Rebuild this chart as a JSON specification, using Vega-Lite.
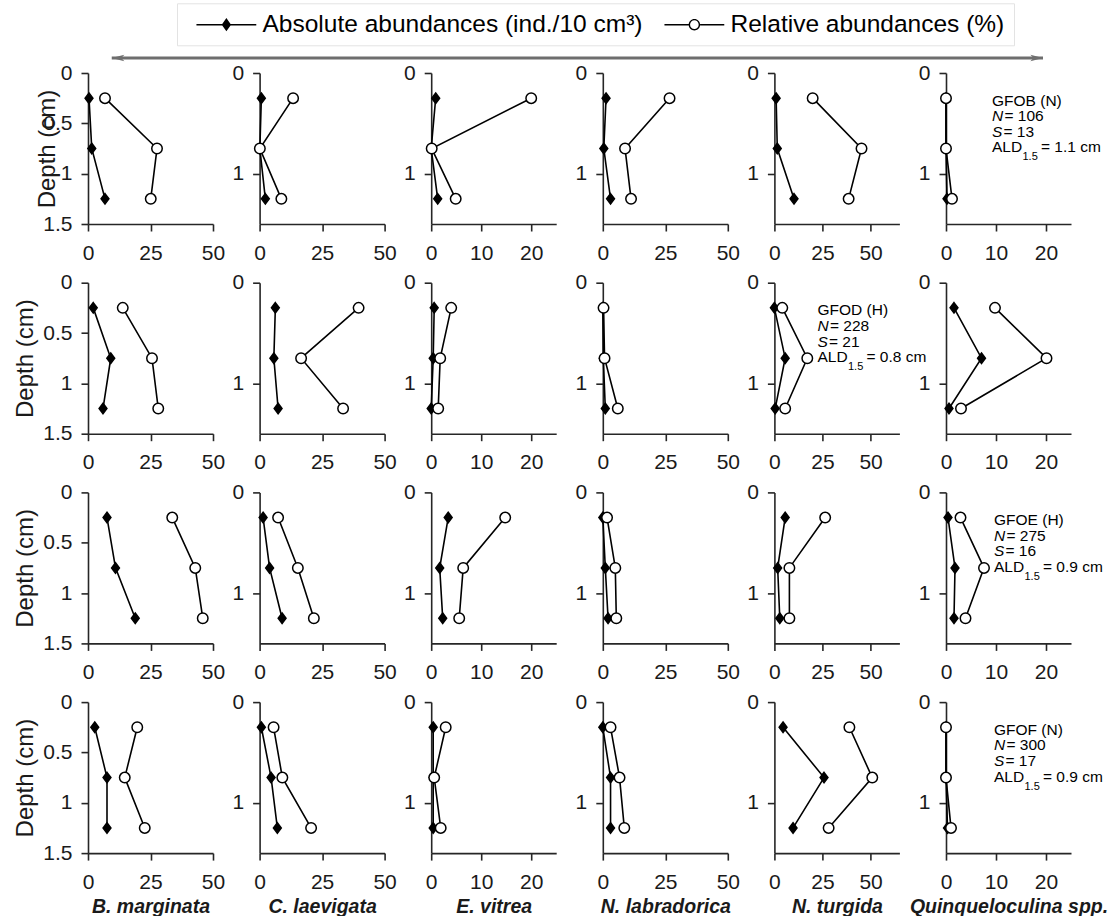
{
"$schema":"https://vega.github.io/schema/vega-lite/v6.json",
"padding":{"left":13,"top":2,"right":0,"bottom":0},
"data":{"values":[
{"site":"GFOB","species":"B. marginata","depth":0.25,"type":"abs","value":0.4},{"site":"GFOB","species":"B. marginata","depth":0.75,"type":"abs","value":1.5},{"site":"GFOB","species":"B. marginata","depth":1.25,"type":"abs","value":6.8},
{"site":"GFOB","species":"B. marginata","depth":0.25,"type":"rel","value":6.8},{"site":"GFOB","species":"B. marginata","depth":0.75,"type":"rel","value":27.6},{"site":"GFOB","species":"B. marginata","depth":1.25,"type":"rel","value":25.1},
{"site":"GFOB","species":"C. laevigata","depth":0.25,"type":"abs","value":0.7},{"site":"GFOB","species":"C. laevigata","depth":0.75,"type":"abs","value":0.1},{"site":"GFOB","species":"C. laevigata","depth":1.25,"type":"abs","value":2.3},
{"site":"GFOB","species":"C. laevigata","depth":0.25,"type":"rel","value":13.4},{"site":"GFOB","species":"C. laevigata","depth":0.75,"type":"rel","value":0.1},{"site":"GFOB","species":"C. laevigata","depth":1.25,"type":"rel","value":8.7},
{"site":"GFOB","species":"E. vitrea","depth":0.25,"type":"abs","value":0.9},{"site":"GFOB","species":"E. vitrea","depth":0.75,"type":"abs","value":0},{"site":"GFOB","species":"E. vitrea","depth":1.25,"type":"abs","value":1.3},
{"site":"GFOB","species":"E. vitrea","depth":0.25,"type":"rel","value":20},{"site":"GFOB","species":"E. vitrea","depth":0.75,"type":"rel","value":0.1},{"site":"GFOB","species":"E. vitrea","depth":1.25,"type":"rel","value":4.9},
{"site":"GFOB","species":"N. labradorica","depth":0.25,"type":"abs","value":1.3},{"site":"GFOB","species":"N. labradorica","depth":0.75,"type":"abs","value":0.4},{"site":"GFOB","species":"N. labradorica","depth":1.25,"type":"abs","value":3.1},
{"site":"GFOB","species":"N. labradorica","depth":0.25,"type":"rel","value":26.7},{"site":"GFOB","species":"N. labradorica","depth":0.75,"type":"rel","value":8.9},{"site":"GFOB","species":"N. labradorica","depth":1.25,"type":"rel","value":11.3},
{"site":"GFOB","species":"N. turgida","depth":0.25,"type":"abs","value":0.9},{"site":"GFOB","species":"N. turgida","depth":0.75,"type":"abs","value":1.5},{"site":"GFOB","species":"N. turgida","depth":1.25,"type":"abs","value":10.2},
{"site":"GFOB","species":"N. turgida","depth":0.25,"type":"rel","value":19.9},{"site":"GFOB","species":"N. turgida","depth":0.75,"type":"rel","value":45.3},{"site":"GFOB","species":"N. turgida","depth":1.25,"type":"rel","value":38.6},
{"site":"GFOB","species":"Quinqueloculina spp.","depth":0.25,"type":"abs","value":0},{"site":"GFOB","species":"Quinqueloculina spp.","depth":0.75,"type":"abs","value":0},{"site":"GFOB","species":"Quinqueloculina spp.","depth":1.25,"type":"abs","value":0.2},
{"site":"GFOB","species":"Quinqueloculina spp.","depth":0.25,"type":"rel","value":0},{"site":"GFOB","species":"Quinqueloculina spp.","depth":0.75,"type":"rel","value":0},{"site":"GFOB","species":"Quinqueloculina spp.","depth":1.25,"type":"rel","value":1.2},
{"site":"GFOD","species":"B. marginata","depth":0.25,"type":"abs","value":2.1},{"site":"GFOD","species":"B. marginata","depth":0.75,"type":"abs","value":9.1},{"site":"GFOD","species":"B. marginata","depth":1.25,"type":"abs","value":6},
{"site":"GFOD","species":"B. marginata","depth":0.25,"type":"rel","value":13.9},{"site":"GFOD","species":"B. marginata","depth":0.75,"type":"rel","value":25.6},{"site":"GFOD","species":"B. marginata","depth":1.25,"type":"rel","value":28.1},
{"site":"GFOD","species":"C. laevigata","depth":0.25,"type":"abs","value":6.3},{"site":"GFOD","species":"C. laevigata","depth":0.75,"type":"abs","value":5.7},{"site":"GFOD","species":"C. laevigata","depth":1.25,"type":"abs","value":7.4},
{"site":"GFOD","species":"C. laevigata","depth":0.25,"type":"rel","value":39.6},{"site":"GFOD","species":"C. laevigata","depth":0.75,"type":"rel","value":16.6},{"site":"GFOD","species":"C. laevigata","depth":1.25,"type":"rel","value":33.4},
{"site":"GFOD","species":"E. vitrea","depth":0.25,"type":"abs","value":0.6},{"site":"GFOD","species":"E. vitrea","depth":0.75,"type":"abs","value":0.4},{"site":"GFOD","species":"E. vitrea","depth":1.25,"type":"abs","value":0},
{"site":"GFOD","species":"E. vitrea","depth":0.25,"type":"rel","value":4},{"site":"GFOD","species":"E. vitrea","depth":0.75,"type":"rel","value":1.8},{"site":"GFOD","species":"E. vitrea","depth":1.25,"type":"rel","value":1.4},
{"site":"GFOD","species":"N. labradorica","depth":0.25,"type":"abs","value":0},{"site":"GFOD","species":"N. labradorica","depth":0.75,"type":"abs","value":0.2},{"site":"GFOD","species":"N. labradorica","depth":1.25,"type":"abs","value":1},
{"site":"GFOD","species":"N. labradorica","depth":0.25,"type":"rel","value":0.3},{"site":"GFOD","species":"N. labradorica","depth":0.75,"type":"rel","value":0.7},{"site":"GFOD","species":"N. labradorica","depth":1.25,"type":"rel","value":6},
{"site":"GFOD","species":"N. turgida","depth":0.25,"type":"abs","value":0},{"site":"GFOD","species":"N. turgida","depth":0.75,"type":"abs","value":5.6},{"site":"GFOD","species":"N. turgida","depth":1.25,"type":"abs","value":0.4},
{"site":"GFOD","species":"N. turgida","depth":0.25,"type":"rel","value":4.1},{"site":"GFOD","species":"N. turgida","depth":0.75,"type":"rel","value":17.1},{"site":"GFOD","species":"N. turgida","depth":1.25,"type":"rel","value":5.6},
{"site":"GFOD","species":"Quinqueloculina spp.","depth":0.25,"type":"abs","value":1.6},{"site":"GFOD","species":"Quinqueloculina spp.","depth":0.75,"type":"abs","value":7.1},{"site":"GFOD","species":"Quinqueloculina spp.","depth":1.25,"type":"abs","value":0.6},
{"site":"GFOD","species":"Quinqueloculina spp.","depth":0.25,"type":"rel","value":9.8},{"site":"GFOD","species":"Quinqueloculina spp.","depth":0.75,"type":"rel","value":20.1},{"site":"GFOD","species":"Quinqueloculina spp.","depth":1.25,"type":"rel","value":3},
{"site":"GFOE","species":"B. marginata","depth":0.25,"type":"abs","value":7.6},{"site":"GFOE","species":"B. marginata","depth":0.75,"type":"abs","value":11},{"site":"GFOE","species":"B. marginata","depth":1.25,"type":"abs","value":18.9},
{"site":"GFOE","species":"B. marginata","depth":0.25,"type":"rel","value":33.7},{"site":"GFOE","species":"B. marginata","depth":0.75,"type":"rel","value":42.9},{"site":"GFOE","species":"B. marginata","depth":1.25,"type":"rel","value":45.9},
{"site":"GFOE","species":"C. laevigata","depth":0.25,"type":"abs","value":1.4},{"site":"GFOE","species":"C. laevigata","depth":0.75,"type":"abs","value":4},{"site":"GFOE","species":"C. laevigata","depth":1.25,"type":"abs","value":9},
{"site":"GFOE","species":"C. laevigata","depth":0.25,"type":"rel","value":7.4},{"site":"GFOE","species":"C. laevigata","depth":0.75,"type":"rel","value":15.3},{"site":"GFOE","species":"C. laevigata","depth":1.25,"type":"rel","value":21.7},
{"site":"GFOE","species":"E. vitrea","depth":0.25,"type":"abs","value":3.4},{"site":"GFOE","species":"E. vitrea","depth":0.75,"type":"abs","value":1.7},{"site":"GFOE","species":"E. vitrea","depth":1.25,"type":"abs","value":2.3},
{"site":"GFOE","species":"E. vitrea","depth":0.25,"type":"rel","value":14.8},{"site":"GFOE","species":"E. vitrea","depth":0.75,"type":"rel","value":6.4},{"site":"GFOE","species":"E. vitrea","depth":1.25,"type":"rel","value":5.6},
{"site":"GFOE","species":"N. labradorica","depth":0.25,"type":"abs","value":0},{"site":"GFOE","species":"N. labradorica","depth":0.75,"type":"abs","value":1},{"site":"GFOE","species":"N. labradorica","depth":1.25,"type":"abs","value":2.1},
{"site":"GFOE","species":"N. labradorica","depth":0.25,"type":"rel","value":1.7},{"site":"GFOE","species":"N. labradorica","depth":0.75,"type":"rel","value":5},{"site":"GFOE","species":"N. labradorica","depth":1.25,"type":"rel","value":5.4},
{"site":"GFOE","species":"N. turgida","depth":0.25,"type":"abs","value":5.6},{"site":"GFOE","species":"N. turgida","depth":0.75,"type":"abs","value":1.7},{"site":"GFOE","species":"N. turgida","depth":1.25,"type":"abs","value":2.8},
{"site":"GFOE","species":"N. turgida","depth":0.25,"type":"rel","value":26.4},{"site":"GFOE","species":"N. turgida","depth":0.75,"type":"rel","value":7.8},{"site":"GFOE","species":"N. turgida","depth":1.25,"type":"rel","value":7.8},
{"site":"GFOE","species":"Quinqueloculina spp.","depth":0.25,"type":"abs","value":0.4},{"site":"GFOE","species":"Quinqueloculina spp.","depth":0.75,"type":"abs","value":1.8},{"site":"GFOE","species":"Quinqueloculina spp.","depth":1.25,"type":"abs","value":1.6},
{"site":"GFOE","species":"Quinqueloculina spp.","depth":0.25,"type":"rel","value":2.9},{"site":"GFOE","species":"Quinqueloculina spp.","depth":0.75,"type":"rel","value":7.6},{"site":"GFOE","species":"Quinqueloculina spp.","depth":1.25,"type":"rel","value":3.9},
{"site":"GFOF","species":"B. marginata","depth":0.25,"type":"abs","value":2.7},{"site":"GFOF","species":"B. marginata","depth":0.75,"type":"abs","value":7.6},{"site":"GFOF","species":"B. marginata","depth":1.25,"type":"abs","value":7.6},
{"site":"GFOF","species":"B. marginata","depth":0.25,"type":"rel","value":19.7},{"site":"GFOF","species":"B. marginata","depth":0.75,"type":"rel","value":14.7},{"site":"GFOF","species":"B. marginata","depth":1.25,"type":"rel","value":22.7},
{"site":"GFOF","species":"C. laevigata","depth":0.25,"type":"abs","value":0.7},{"site":"GFOF","species":"C. laevigata","depth":0.75,"type":"abs","value":4.6},{"site":"GFOF","species":"C. laevigata","depth":1.25,"type":"abs","value":7.1},
{"site":"GFOF","species":"C. laevigata","depth":0.25,"type":"rel","value":5.6},{"site":"GFOF","species":"C. laevigata","depth":0.75,"type":"rel","value":9.1},{"site":"GFOF","species":"C. laevigata","depth":1.25,"type":"rel","value":20.6},
{"site":"GFOF","species":"E. vitrea","depth":0.25,"type":"abs","value":0.4},{"site":"GFOF","species":"E. vitrea","depth":0.75,"type":"abs","value":0.4},{"site":"GFOF","species":"E. vitrea","depth":1.25,"type":"abs","value":0.4},
{"site":"GFOF","species":"E. vitrea","depth":0.25,"type":"rel","value":2.9},{"site":"GFOF","species":"E. vitrea","depth":0.75,"type":"rel","value":0.6},{"site":"GFOF","species":"E. vitrea","depth":1.25,"type":"rel","value":1.9},
{"site":"GFOF","species":"N. labradorica","depth":0.25,"type":"abs","value":0},{"site":"GFOF","species":"N. labradorica","depth":0.75,"type":"abs","value":3.1},{"site":"GFOF","species":"N. labradorica","depth":1.25,"type":"abs","value":3.1},
{"site":"GFOF","species":"N. labradorica","depth":0.25,"type":"rel","value":3.1},{"site":"GFOF","species":"N. labradorica","depth":0.75,"type":"rel","value":6.7},{"site":"GFOF","species":"N. labradorica","depth":1.25,"type":"rel","value":8.6},
{"site":"GFOF","species":"N. turgida","depth":0.25,"type":"abs","value":4.5},{"site":"GFOF","species":"N. turgida","depth":0.75,"type":"abs","value":25.8},{"site":"GFOF","species":"N. turgida","depth":1.25,"type":"abs","value":9.7},
{"site":"GFOF","species":"N. turgida","depth":0.25,"type":"rel","value":39},{"site":"GFOF","species":"N. turgida","depth":0.75,"type":"rel","value":50.9},{"site":"GFOF","species":"N. turgida","depth":1.25,"type":"rel","value":28.2},
{"site":"GFOF","species":"Quinqueloculina spp.","depth":0.25,"type":"abs","value":0},{"site":"GFOF","species":"Quinqueloculina spp.","depth":0.75,"type":"abs","value":0},{"site":"GFOF","species":"Quinqueloculina spp.","depth":1.25,"type":"abs","value":0.3},
{"site":"GFOF","species":"Quinqueloculina spp.","depth":0.25,"type":"rel","value":0},{"site":"GFOF","species":"Quinqueloculina spp.","depth":0.75,"type":"rel","value":0},{"site":"GFOF","species":"Quinqueloculina spp.","depth":1.25,"type":"rel","value":1}
]},
"spacing":0,
"resolve":{"scale":{"shape":"independent","fill":"independent"}},
"vconcat":[
{"width":955,"height":6,
 "layer":[
  {"data":{"values":[{}]},"mark":{"type":"rule","color":"#6e6e6e","strokeWidth":3},"encoding":{"x":{"datum":0,"type":"quantitative","scale":{"domain":[-0.0255,1],"nice":false,"zero":false},"axis":null},"x2":{"datum":1}}},
  {"data":{"values":[{}]},"mark":{"type":"point","shape":"M0,0L2,-0.5L1.5,0L2,0.5Z","filled":true,"color":"#6e6e6e","size":160,"opacity":1},"encoding":{"x":{"datum":0,"type":"quantitative"}}},
  {"data":{"values":[{}]},"mark":{"type":"point","shape":"M0,0L-2,-0.5L-1.5,0L-2,0.5Z","filled":true,"color":"#6e6e6e","size":160,"opacity":1},"encoding":{"x":{"datum":1,"type":"quantitative"}}},
  {"data":{"values":[{"type":"abs"},{"type":"rel"}]},"mark":{"type":"point","filled":true,"opacity":0},
   "encoding":{
    "shape":{"field":"type","type":"nominal","scale":{"domain":["abs","rel"],"range":["M-0.3,-0.13L9.67,-0.13L9.67,0.13L-0.3,0.13ZM4.69,-1.1L5.47,0L4.69,1.1L3.91,0Z","M-0.3,-0.13L3.74,-0.13L3.74,0.13L-0.3,0.13ZM5.64,-0.13L9.67,-0.13L9.67,0.13L5.64,0.13ZM5.64,0A0.95,0.95,0,1,0,3.74,0A0.95,0.95,0,1,0,5.64,0ZM5.41,0A0.72,0.72,0,1,1,3.97,0A0.72,0.72,0,1,1,5.41,0Z"]},
     "legend":{"orient":"none","legendX":89,"legendY":-51.7,"direction":"horizontal","columns":2,"title":null,"labelExpr":"datum.value=='abs' ? 'Absolute abundances (ind./10 cm³)' : 'Relative abundances (%)'","labelFontSize":24.5,"labelFont":"Liberation Sans","labelColor":"black","labelLimit":800,"symbolSize":144,"symbolOpacity":1,"labelOffset":52,"columnPadding":11,"padding":9,"strokeColor":"#e3e3e3","fillColor":"white"}},
    "fill":{"field":"type","type":"nominal","scale":{"domain":["abs","rel"],"range":["black","black"]}}
   }}
 ]},
{"columns":6,"spacing":{"row":58.7,"column":46.6},"bounds":"flush",
 "concat":[
{"width":125,"height":151,"transform":[{"filter":"datum.site=='GFOB'&&datum.species=='B. marginata'"}],"encoding":{"x":{"field":"value","type":"quantitative","scale":{"domain":[0,50],"nice":false},"axis":{"values":[0,25,50],"title":null}},"y":{"field":"depth","type":"quantitative","scale":{"domain":[0,1.5],"reverse":true,"nice":false},"axis":{"values":[0,0.5,1,1.5],"format":"~g","title":"Depth (cm)","titlePadding":-16.7}}},"layer":[{"mark":{"type":"line","color":"black","strokeWidth":1.6},"encoding":{"detail":{"field":"type"},"order":{"field":"depth","type":"quantitative"}}},{"mark":{"type":"point","filled":true,"stroke":"black","strokeWidth":1.5,"size":110,"opacity":1},"encoding":{"shape":{"field":"type","type":"nominal","scale":{"domain":["abs","rel"],"range":["M0,-1L0.75,0L0,1L-0.75,0Z","circle"]},"legend":null},"fill":{"field":"type","type":"nominal","scale":{"domain":["abs","rel"],"range":["black","white"]},"legend":null}}}]},
{"width":125,"height":151,"transform":[{"filter":"datum.site=='GFOB'&&datum.species=='C. laevigata'"}],"encoding":{"x":{"field":"value","type":"quantitative","scale":{"domain":[0,50],"nice":false},"axis":{"values":[0,25,50],"title":null}},"y":{"field":"depth","type":"quantitative","scale":{"domain":[0,1.5],"reverse":true,"nice":false},"axis":{"values":[0,1],"format":"~g","title":null}}},"layer":[{"mark":{"type":"line","color":"black","strokeWidth":1.6},"encoding":{"detail":{"field":"type"},"order":{"field":"depth","type":"quantitative"}}},{"mark":{"type":"point","filled":true,"stroke":"black","strokeWidth":1.5,"size":110,"opacity":1},"encoding":{"shape":{"field":"type","type":"nominal","scale":{"domain":["abs","rel"],"range":["M0,-1L0.75,0L0,1L-0.75,0Z","circle"]},"legend":null},"fill":{"field":"type","type":"nominal","scale":{"domain":["abs","rel"],"range":["black","white"]},"legend":null}}}]},
{"width":125,"height":151,"transform":[{"filter":"datum.site=='GFOB'&&datum.species=='E. vitrea'"}],"encoding":{"x":{"field":"value","type":"quantitative","scale":{"domain":[0,25],"nice":false},"axis":{"values":[0,10,20],"title":null}},"y":{"field":"depth","type":"quantitative","scale":{"domain":[0,1.5],"reverse":true,"nice":false},"axis":{"values":[0,1],"format":"~g","title":null}}},"layer":[{"mark":{"type":"line","color":"black","strokeWidth":1.6},"encoding":{"detail":{"field":"type"},"order":{"field":"depth","type":"quantitative"}}},{"mark":{"type":"point","filled":true,"stroke":"black","strokeWidth":1.5,"size":110,"opacity":1},"encoding":{"shape":{"field":"type","type":"nominal","scale":{"domain":["abs","rel"],"range":["M0,-1L0.75,0L0,1L-0.75,0Z","circle"]},"legend":null},"fill":{"field":"type","type":"nominal","scale":{"domain":["abs","rel"],"range":["black","white"]},"legend":null}}}]},
{"width":125,"height":151,"transform":[{"filter":"datum.site=='GFOB'&&datum.species=='N. labradorica'"}],"encoding":{"x":{"field":"value","type":"quantitative","scale":{"domain":[0,50],"nice":false},"axis":{"values":[0,25,50],"title":null}},"y":{"field":"depth","type":"quantitative","scale":{"domain":[0,1.5],"reverse":true,"nice":false},"axis":{"values":[0,1],"format":"~g","title":null}}},"layer":[{"mark":{"type":"line","color":"black","strokeWidth":1.6},"encoding":{"detail":{"field":"type"},"order":{"field":"depth","type":"quantitative"}}},{"mark":{"type":"point","filled":true,"stroke":"black","strokeWidth":1.5,"size":110,"opacity":1},"encoding":{"shape":{"field":"type","type":"nominal","scale":{"domain":["abs","rel"],"range":["M0,-1L0.75,0L0,1L-0.75,0Z","circle"]},"legend":null},"fill":{"field":"type","type":"nominal","scale":{"domain":["abs","rel"],"range":["black","white"]},"legend":null}}}]},
{"width":125,"height":151,"transform":[{"filter":"datum.site=='GFOB'&&datum.species=='N. turgida'"}],"encoding":{"x":{"field":"value","type":"quantitative","scale":{"domain":[0,65],"nice":false},"axis":{"values":[0,25,50],"title":null}},"y":{"field":"depth","type":"quantitative","scale":{"domain":[0,1.5],"reverse":true,"nice":false},"axis":{"values":[0,1],"format":"~g","title":null}}},"layer":[{"mark":{"type":"line","color":"black","strokeWidth":1.6},"encoding":{"detail":{"field":"type"},"order":{"field":"depth","type":"quantitative"}}},{"mark":{"type":"point","filled":true,"stroke":"black","strokeWidth":1.5,"size":110,"opacity":1},"encoding":{"shape":{"field":"type","type":"nominal","scale":{"domain":["abs","rel"],"range":["M0,-1L0.75,0L0,1L-0.75,0Z","circle"]},"legend":null},"fill":{"field":"type","type":"nominal","scale":{"domain":["abs","rel"],"range":["black","white"]},"legend":null}}}]},
{"width":125,"height":151,
 "layer":[
  {"transform":[{"filter":"datum.site=='GFOB'&&datum.species=='Quinqueloculina spp.'"}],"mark":{"type":"line","color":"black","strokeWidth":1.6},"encoding":{"x":{"field":"value","type":"quantitative","scale":{"domain":[0,25],"nice":false},"axis":{"values":[0,10,20],"title":null}},"y":{"field":"depth","type":"quantitative","scale":{"domain":[0,1.5],"reverse":true,"nice":false},"axis":{"values":[0,1],"format":"~g","title":null}},"detail":{"field":"type"},"order":{"field":"depth","type":"quantitative"}}},
  {"transform":[{"filter":"datum.site=='GFOB'&&datum.species=='Quinqueloculina spp.'"}],"mark":{"type":"point","filled":true,"stroke":"black","strokeWidth":1.5,"size":110,"opacity":1},"encoding":{"x":{"field":"value","type":"quantitative"},"y":{"field":"depth","type":"quantitative"},"shape":{"field":"type","type":"nominal","scale":{"domain":["abs","rel"],"range":["M0,-1L0.75,0L0,1L-0.75,0Z","circle"]},"legend":null},"fill":{"field":"type","type":"nominal","scale":{"domain":["abs","rel"],"range":["black","white"]},"legend":null}}},
  {"data":{"values":[{"label":"GFOB (N)","n":"= 106","s":"= 13","ald":"= 1.1 cm"}]},"mark":{"type":"text"},"encoding":{"text":{"field":"label"},"x":{"datum":9.2,"type":"quantitative"},"y":{"datum":0.275,"type":"quantitative"}}},
  {"data":{"values":[{}]},"mark":{"type":"text","text":"N","fontStyle":"italic"},"encoding":{"x":{"datum":9.2,"type":"quantitative"},"y":{"datum":0.43,"type":"quantitative"}}},
  {"data":{"values":[{"label":"GFOB (N)","n":"= 106","s":"= 13","ald":"= 1.1 cm"}]},"mark":{"type":"text","dx":12.5},"encoding":{"text":{"field":"n"},"x":{"datum":9.2,"type":"quantitative"},"y":{"datum":0.43,"type":"quantitative"}}},
  {"data":{"values":[{}]},"mark":{"type":"text","text":"S","fontStyle":"italic"},"encoding":{"x":{"datum":9.2,"type":"quantitative"},"y":{"datum":0.585,"type":"quantitative"}}},
  {"data":{"values":[{"label":"GFOB (N)","n":"= 106","s":"= 13","ald":"= 1.1 cm"}]},"mark":{"type":"text","dx":11.5},"encoding":{"text":{"field":"s"},"x":{"datum":9.2,"type":"quantitative"},"y":{"datum":0.585,"type":"quantitative"}}},
  {"data":{"values":[{}]},"mark":{"type":"text","text":"ALD"},"encoding":{"x":{"datum":9.2,"type":"quantitative"},"y":{"datum":0.74,"type":"quantitative"}}},
  {"data":{"values":[{}]},"mark":{"type":"text","text":"1.5","fontSize":11,"dx":30.5,"dy":10},"encoding":{"x":{"datum":9.2,"type":"quantitative"},"y":{"datum":0.74,"type":"quantitative"}}},
  {"data":{"values":[{"label":"GFOB (N)","n":"= 106","s":"= 13","ald":"= 1.1 cm"}]},"mark":{"type":"text","dx":49},"encoding":{"text":{"field":"ald"},"x":{"datum":9.2,"type":"quantitative"},"y":{"datum":0.74,"type":"quantitative"}}}
 ]},
{"width":125,"height":151,"transform":[{"filter":"datum.site=='GFOD'&&datum.species=='B. marginata'"}],"encoding":{"x":{"field":"value","type":"quantitative","scale":{"domain":[0,50],"nice":false},"axis":{"values":[0,25,50],"title":null}},"y":{"field":"depth","type":"quantitative","scale":{"domain":[0,1.5],"reverse":true,"nice":false},"axis":{"values":[0,0.5,1,1.5],"format":"~g","title":"Depth (cm)"}}},"layer":[{"mark":{"type":"line","color":"black","strokeWidth":1.6},"encoding":{"detail":{"field":"type"},"order":{"field":"depth","type":"quantitative"}}},{"mark":{"type":"point","filled":true,"stroke":"black","strokeWidth":1.5,"size":110,"opacity":1},"encoding":{"shape":{"field":"type","type":"nominal","scale":{"domain":["abs","rel"],"range":["M0,-1L0.75,0L0,1L-0.75,0Z","circle"]},"legend":null},"fill":{"field":"type","type":"nominal","scale":{"domain":["abs","rel"],"range":["black","white"]},"legend":null}}}]},
{"width":125,"height":151,"transform":[{"filter":"datum.site=='GFOD'&&datum.species=='C. laevigata'"}],"encoding":{"x":{"field":"value","type":"quantitative","scale":{"domain":[0,50],"nice":false},"axis":{"values":[0,25,50],"title":null}},"y":{"field":"depth","type":"quantitative","scale":{"domain":[0,1.5],"reverse":true,"nice":false},"axis":{"values":[0,1],"format":"~g","title":null}}},"layer":[{"mark":{"type":"line","color":"black","strokeWidth":1.6},"encoding":{"detail":{"field":"type"},"order":{"field":"depth","type":"quantitative"}}},{"mark":{"type":"point","filled":true,"stroke":"black","strokeWidth":1.5,"size":110,"opacity":1},"encoding":{"shape":{"field":"type","type":"nominal","scale":{"domain":["abs","rel"],"range":["M0,-1L0.75,0L0,1L-0.75,0Z","circle"]},"legend":null},"fill":{"field":"type","type":"nominal","scale":{"domain":["abs","rel"],"range":["black","white"]},"legend":null}}}]},
{"width":125,"height":151,"transform":[{"filter":"datum.site=='GFOD'&&datum.species=='E. vitrea'"}],"encoding":{"x":{"field":"value","type":"quantitative","scale":{"domain":[0,25],"nice":false},"axis":{"values":[0,10,20],"title":null}},"y":{"field":"depth","type":"quantitative","scale":{"domain":[0,1.5],"reverse":true,"nice":false},"axis":{"values":[0,1],"format":"~g","title":null}}},"layer":[{"mark":{"type":"line","color":"black","strokeWidth":1.6},"encoding":{"detail":{"field":"type"},"order":{"field":"depth","type":"quantitative"}}},{"mark":{"type":"point","filled":true,"stroke":"black","strokeWidth":1.5,"size":110,"opacity":1},"encoding":{"shape":{"field":"type","type":"nominal","scale":{"domain":["abs","rel"],"range":["M0,-1L0.75,0L0,1L-0.75,0Z","circle"]},"legend":null},"fill":{"field":"type","type":"nominal","scale":{"domain":["abs","rel"],"range":["black","white"]},"legend":null}}}]},
{"width":125,"height":151,"transform":[{"filter":"datum.site=='GFOD'&&datum.species=='N. labradorica'"}],"encoding":{"x":{"field":"value","type":"quantitative","scale":{"domain":[0,50],"nice":false},"axis":{"values":[0,25,50],"title":null}},"y":{"field":"depth","type":"quantitative","scale":{"domain":[0,1.5],"reverse":true,"nice":false},"axis":{"values":[0,1],"format":"~g","title":null}}},"layer":[{"mark":{"type":"line","color":"black","strokeWidth":1.6},"encoding":{"detail":{"field":"type"},"order":{"field":"depth","type":"quantitative"}}},{"mark":{"type":"point","filled":true,"stroke":"black","strokeWidth":1.5,"size":110,"opacity":1},"encoding":{"shape":{"field":"type","type":"nominal","scale":{"domain":["abs","rel"],"range":["M0,-1L0.75,0L0,1L-0.75,0Z","circle"]},"legend":null},"fill":{"field":"type","type":"nominal","scale":{"domain":["abs","rel"],"range":["black","white"]},"legend":null}}}]},
{"width":125,"height":151,
 "layer":[
  {"transform":[{"filter":"datum.site=='GFOD'&&datum.species=='N. turgida'"}],"mark":{"type":"line","color":"black","strokeWidth":1.6},"encoding":{"x":{"field":"value","type":"quantitative","scale":{"domain":[0,65],"nice":false},"axis":{"values":[0,25,50],"title":null}},"y":{"field":"depth","type":"quantitative","scale":{"domain":[0,1.5],"reverse":true,"nice":false},"axis":{"values":[0,1],"format":"~g","title":null}},"detail":{"field":"type"},"order":{"field":"depth","type":"quantitative"}}},
  {"transform":[{"filter":"datum.site=='GFOD'&&datum.species=='N. turgida'"}],"mark":{"type":"point","filled":true,"stroke":"black","strokeWidth":1.5,"size":110,"opacity":1},"encoding":{"x":{"field":"value","type":"quantitative"},"y":{"field":"depth","type":"quantitative"},"shape":{"field":"type","type":"nominal","scale":{"domain":["abs","rel"],"range":["M0,-1L0.75,0L0,1L-0.75,0Z","circle"]},"legend":null},"fill":{"field":"type","type":"nominal","scale":{"domain":["abs","rel"],"range":["black","white"]},"legend":null}}},
  {"data":{"values":[{"label":"GFOD (H)","n":"= 228","s":"= 21","ald":"= 0.8 cm"}]},"mark":{"type":"text"},"encoding":{"text":{"field":"label"},"x":{"datum":22.4,"type":"quantitative"},"y":{"datum":0.275,"type":"quantitative"}}},
  {"data":{"values":[{}]},"mark":{"type":"text","text":"N","fontStyle":"italic"},"encoding":{"x":{"datum":22.4,"type":"quantitative"},"y":{"datum":0.43,"type":"quantitative"}}},
  {"data":{"values":[{"label":"GFOD (H)","n":"= 228","s":"= 21","ald":"= 0.8 cm"}]},"mark":{"type":"text","dx":12.5},"encoding":{"text":{"field":"n"},"x":{"datum":22.4,"type":"quantitative"},"y":{"datum":0.43,"type":"quantitative"}}},
  {"data":{"values":[{}]},"mark":{"type":"text","text":"S","fontStyle":"italic"},"encoding":{"x":{"datum":22.4,"type":"quantitative"},"y":{"datum":0.585,"type":"quantitative"}}},
  {"data":{"values":[{"label":"GFOD (H)","n":"= 228","s":"= 21","ald":"= 0.8 cm"}]},"mark":{"type":"text","dx":11.5},"encoding":{"text":{"field":"s"},"x":{"datum":22.4,"type":"quantitative"},"y":{"datum":0.585,"type":"quantitative"}}},
  {"data":{"values":[{}]},"mark":{"type":"text","text":"ALD"},"encoding":{"x":{"datum":22.4,"type":"quantitative"},"y":{"datum":0.74,"type":"quantitative"}}},
  {"data":{"values":[{}]},"mark":{"type":"text","text":"1.5","fontSize":11,"dx":30.5,"dy":10},"encoding":{"x":{"datum":22.4,"type":"quantitative"},"y":{"datum":0.74,"type":"quantitative"}}},
  {"data":{"values":[{"label":"GFOD (H)","n":"= 228","s":"= 21","ald":"= 0.8 cm"}]},"mark":{"type":"text","dx":49},"encoding":{"text":{"field":"ald"},"x":{"datum":22.4,"type":"quantitative"},"y":{"datum":0.74,"type":"quantitative"}}}
 ]},
{"width":125,"height":151,"transform":[{"filter":"datum.site=='GFOD'&&datum.species=='Quinqueloculina spp.'"}],"encoding":{"x":{"field":"value","type":"quantitative","scale":{"domain":[0,25],"nice":false},"axis":{"values":[0,10,20],"title":null}},"y":{"field":"depth","type":"quantitative","scale":{"domain":[0,1.5],"reverse":true,"nice":false},"axis":{"values":[0,1],"format":"~g","title":null}}},"layer":[{"mark":{"type":"line","color":"black","strokeWidth":1.6},"encoding":{"detail":{"field":"type"},"order":{"field":"depth","type":"quantitative"}}},{"mark":{"type":"point","filled":true,"stroke":"black","strokeWidth":1.5,"size":110,"opacity":1},"encoding":{"shape":{"field":"type","type":"nominal","scale":{"domain":["abs","rel"],"range":["M0,-1L0.75,0L0,1L-0.75,0Z","circle"]},"legend":null},"fill":{"field":"type","type":"nominal","scale":{"domain":["abs","rel"],"range":["black","white"]},"legend":null}}}]},
{"width":125,"height":151,"transform":[{"filter":"datum.site=='GFOE'&&datum.species=='B. marginata'"}],"encoding":{"x":{"field":"value","type":"quantitative","scale":{"domain":[0,50],"nice":false},"axis":{"values":[0,25,50],"title":null}},"y":{"field":"depth","type":"quantitative","scale":{"domain":[0,1.5],"reverse":true,"nice":false},"axis":{"values":[0,0.5,1,1.5],"format":"~g","title":"Depth (cm)"}}},"layer":[{"mark":{"type":"line","color":"black","strokeWidth":1.6},"encoding":{"detail":{"field":"type"},"order":{"field":"depth","type":"quantitative"}}},{"mark":{"type":"point","filled":true,"stroke":"black","strokeWidth":1.5,"size":110,"opacity":1},"encoding":{"shape":{"field":"type","type":"nominal","scale":{"domain":["abs","rel"],"range":["M0,-1L0.75,0L0,1L-0.75,0Z","circle"]},"legend":null},"fill":{"field":"type","type":"nominal","scale":{"domain":["abs","rel"],"range":["black","white"]},"legend":null}}}]},
{"width":125,"height":151,"transform":[{"filter":"datum.site=='GFOE'&&datum.species=='C. laevigata'"}],"encoding":{"x":{"field":"value","type":"quantitative","scale":{"domain":[0,50],"nice":false},"axis":{"values":[0,25,50],"title":null}},"y":{"field":"depth","type":"quantitative","scale":{"domain":[0,1.5],"reverse":true,"nice":false},"axis":{"values":[0,1],"format":"~g","title":null}}},"layer":[{"mark":{"type":"line","color":"black","strokeWidth":1.6},"encoding":{"detail":{"field":"type"},"order":{"field":"depth","type":"quantitative"}}},{"mark":{"type":"point","filled":true,"stroke":"black","strokeWidth":1.5,"size":110,"opacity":1},"encoding":{"shape":{"field":"type","type":"nominal","scale":{"domain":["abs","rel"],"range":["M0,-1L0.75,0L0,1L-0.75,0Z","circle"]},"legend":null},"fill":{"field":"type","type":"nominal","scale":{"domain":["abs","rel"],"range":["black","white"]},"legend":null}}}]},
{"width":125,"height":151,"transform":[{"filter":"datum.site=='GFOE'&&datum.species=='E. vitrea'"}],"encoding":{"x":{"field":"value","type":"quantitative","scale":{"domain":[0,25],"nice":false},"axis":{"values":[0,10,20],"title":null}},"y":{"field":"depth","type":"quantitative","scale":{"domain":[0,1.5],"reverse":true,"nice":false},"axis":{"values":[0,1],"format":"~g","title":null}}},"layer":[{"mark":{"type":"line","color":"black","strokeWidth":1.6},"encoding":{"detail":{"field":"type"},"order":{"field":"depth","type":"quantitative"}}},{"mark":{"type":"point","filled":true,"stroke":"black","strokeWidth":1.5,"size":110,"opacity":1},"encoding":{"shape":{"field":"type","type":"nominal","scale":{"domain":["abs","rel"],"range":["M0,-1L0.75,0L0,1L-0.75,0Z","circle"]},"legend":null},"fill":{"field":"type","type":"nominal","scale":{"domain":["abs","rel"],"range":["black","white"]},"legend":null}}}]},
{"width":125,"height":151,"transform":[{"filter":"datum.site=='GFOE'&&datum.species=='N. labradorica'"}],"encoding":{"x":{"field":"value","type":"quantitative","scale":{"domain":[0,50],"nice":false},"axis":{"values":[0,25,50],"title":null}},"y":{"field":"depth","type":"quantitative","scale":{"domain":[0,1.5],"reverse":true,"nice":false},"axis":{"values":[0,1],"format":"~g","title":null}}},"layer":[{"mark":{"type":"line","color":"black","strokeWidth":1.6},"encoding":{"detail":{"field":"type"},"order":{"field":"depth","type":"quantitative"}}},{"mark":{"type":"point","filled":true,"stroke":"black","strokeWidth":1.5,"size":110,"opacity":1},"encoding":{"shape":{"field":"type","type":"nominal","scale":{"domain":["abs","rel"],"range":["M0,-1L0.75,0L0,1L-0.75,0Z","circle"]},"legend":null},"fill":{"field":"type","type":"nominal","scale":{"domain":["abs","rel"],"range":["black","white"]},"legend":null}}}]},
{"width":125,"height":151,"transform":[{"filter":"datum.site=='GFOE'&&datum.species=='N. turgida'"}],"encoding":{"x":{"field":"value","type":"quantitative","scale":{"domain":[0,65],"nice":false},"axis":{"values":[0,25,50],"title":null}},"y":{"field":"depth","type":"quantitative","scale":{"domain":[0,1.5],"reverse":true,"nice":false},"axis":{"values":[0,1],"format":"~g","title":null}}},"layer":[{"mark":{"type":"line","color":"black","strokeWidth":1.6},"encoding":{"detail":{"field":"type"},"order":{"field":"depth","type":"quantitative"}}},{"mark":{"type":"point","filled":true,"stroke":"black","strokeWidth":1.5,"size":110,"opacity":1},"encoding":{"shape":{"field":"type","type":"nominal","scale":{"domain":["abs","rel"],"range":["M0,-1L0.75,0L0,1L-0.75,0Z","circle"]},"legend":null},"fill":{"field":"type","type":"nominal","scale":{"domain":["abs","rel"],"range":["black","white"]},"legend":null}}}]},
{"width":125,"height":151,
 "layer":[
  {"transform":[{"filter":"datum.site=='GFOE'&&datum.species=='Quinqueloculina spp.'"}],"mark":{"type":"line","color":"black","strokeWidth":1.6},"encoding":{"x":{"field":"value","type":"quantitative","scale":{"domain":[0,25],"nice":false},"axis":{"values":[0,10,20],"title":null}},"y":{"field":"depth","type":"quantitative","scale":{"domain":[0,1.5],"reverse":true,"nice":false},"axis":{"values":[0,1],"format":"~g","title":null}},"detail":{"field":"type"},"order":{"field":"depth","type":"quantitative"}}},
  {"transform":[{"filter":"datum.site=='GFOE'&&datum.species=='Quinqueloculina spp.'"}],"mark":{"type":"point","filled":true,"stroke":"black","strokeWidth":1.5,"size":110,"opacity":1},"encoding":{"x":{"field":"value","type":"quantitative"},"y":{"field":"depth","type":"quantitative"},"shape":{"field":"type","type":"nominal","scale":{"domain":["abs","rel"],"range":["M0,-1L0.75,0L0,1L-0.75,0Z","circle"]},"legend":null},"fill":{"field":"type","type":"nominal","scale":{"domain":["abs","rel"],"range":["black","white"]},"legend":null}}},
  {"data":{"values":[{"label":"GFOE (H)","n":"= 275","s":"= 16","ald":"= 0.9 cm"}]},"mark":{"type":"text"},"encoding":{"text":{"field":"label"},"x":{"datum":9.6,"type":"quantitative"},"y":{"datum":0.275,"type":"quantitative"}}},
  {"data":{"values":[{}]},"mark":{"type":"text","text":"N","fontStyle":"italic"},"encoding":{"x":{"datum":9.6,"type":"quantitative"},"y":{"datum":0.43,"type":"quantitative"}}},
  {"data":{"values":[{"label":"GFOE (H)","n":"= 275","s":"= 16","ald":"= 0.9 cm"}]},"mark":{"type":"text","dx":12.5},"encoding":{"text":{"field":"n"},"x":{"datum":9.6,"type":"quantitative"},"y":{"datum":0.43,"type":"quantitative"}}},
  {"data":{"values":[{}]},"mark":{"type":"text","text":"S","fontStyle":"italic"},"encoding":{"x":{"datum":9.6,"type":"quantitative"},"y":{"datum":0.585,"type":"quantitative"}}},
  {"data":{"values":[{"label":"GFOE (H)","n":"= 275","s":"= 16","ald":"= 0.9 cm"}]},"mark":{"type":"text","dx":11.5},"encoding":{"text":{"field":"s"},"x":{"datum":9.6,"type":"quantitative"},"y":{"datum":0.585,"type":"quantitative"}}},
  {"data":{"values":[{}]},"mark":{"type":"text","text":"ALD"},"encoding":{"x":{"datum":9.6,"type":"quantitative"},"y":{"datum":0.74,"type":"quantitative"}}},
  {"data":{"values":[{}]},"mark":{"type":"text","text":"1.5","fontSize":11,"dx":30.5,"dy":10},"encoding":{"x":{"datum":9.6,"type":"quantitative"},"y":{"datum":0.74,"type":"quantitative"}}},
  {"data":{"values":[{"label":"GFOE (H)","n":"= 275","s":"= 16","ald":"= 0.9 cm"}]},"mark":{"type":"text","dx":49},"encoding":{"text":{"field":"ald"},"x":{"datum":9.6,"type":"quantitative"},"y":{"datum":0.74,"type":"quantitative"}}}
 ]},
{"width":125,"height":151,"transform":[{"filter":"datum.site=='GFOF'&&datum.species=='B. marginata'"}],"encoding":{"x":{"field":"value","type":"quantitative","scale":{"domain":[0,50],"nice":false},"axis":{"values":[0,25,50],"title":"B. marginata"}},"y":{"field":"depth","type":"quantitative","scale":{"domain":[0,1.5],"reverse":true,"nice":false},"axis":{"values":[0,0.5,1,1.5],"format":"~g","title":"Depth (cm)"}}},"layer":[{"mark":{"type":"line","color":"black","strokeWidth":1.6},"encoding":{"detail":{"field":"type"},"order":{"field":"depth","type":"quantitative"}}},{"mark":{"type":"point","filled":true,"stroke":"black","strokeWidth":1.5,"size":110,"opacity":1},"encoding":{"shape":{"field":"type","type":"nominal","scale":{"domain":["abs","rel"],"range":["M0,-1L0.75,0L0,1L-0.75,0Z","circle"]},"legend":null},"fill":{"field":"type","type":"nominal","scale":{"domain":["abs","rel"],"range":["black","white"]},"legend":null}}}]},
{"width":125,"height":151,"transform":[{"filter":"datum.site=='GFOF'&&datum.species=='C. laevigata'"}],"encoding":{"x":{"field":"value","type":"quantitative","scale":{"domain":[0,50],"nice":false},"axis":{"values":[0,25,50],"title":"C. laevigata"}},"y":{"field":"depth","type":"quantitative","scale":{"domain":[0,1.5],"reverse":true,"nice":false},"axis":{"values":[0,1],"format":"~g","title":null}}},"layer":[{"mark":{"type":"line","color":"black","strokeWidth":1.6},"encoding":{"detail":{"field":"type"},"order":{"field":"depth","type":"quantitative"}}},{"mark":{"type":"point","filled":true,"stroke":"black","strokeWidth":1.5,"size":110,"opacity":1},"encoding":{"shape":{"field":"type","type":"nominal","scale":{"domain":["abs","rel"],"range":["M0,-1L0.75,0L0,1L-0.75,0Z","circle"]},"legend":null},"fill":{"field":"type","type":"nominal","scale":{"domain":["abs","rel"],"range":["black","white"]},"legend":null}}}]},
{"width":125,"height":151,"transform":[{"filter":"datum.site=='GFOF'&&datum.species=='E. vitrea'"}],"encoding":{"x":{"field":"value","type":"quantitative","scale":{"domain":[0,25],"nice":false},"axis":{"values":[0,10,20],"title":"E. vitrea"}},"y":{"field":"depth","type":"quantitative","scale":{"domain":[0,1.5],"reverse":true,"nice":false},"axis":{"values":[0,1],"format":"~g","title":null}}},"layer":[{"mark":{"type":"line","color":"black","strokeWidth":1.6},"encoding":{"detail":{"field":"type"},"order":{"field":"depth","type":"quantitative"}}},{"mark":{"type":"point","filled":true,"stroke":"black","strokeWidth":1.5,"size":110,"opacity":1},"encoding":{"shape":{"field":"type","type":"nominal","scale":{"domain":["abs","rel"],"range":["M0,-1L0.75,0L0,1L-0.75,0Z","circle"]},"legend":null},"fill":{"field":"type","type":"nominal","scale":{"domain":["abs","rel"],"range":["black","white"]},"legend":null}}}]},
{"width":125,"height":151,"transform":[{"filter":"datum.site=='GFOF'&&datum.species=='N. labradorica'"}],"encoding":{"x":{"field":"value","type":"quantitative","scale":{"domain":[0,50],"nice":false},"axis":{"values":[0,25,50],"title":"N. labradorica"}},"y":{"field":"depth","type":"quantitative","scale":{"domain":[0,1.5],"reverse":true,"nice":false},"axis":{"values":[0,1],"format":"~g","title":null}}},"layer":[{"mark":{"type":"line","color":"black","strokeWidth":1.6},"encoding":{"detail":{"field":"type"},"order":{"field":"depth","type":"quantitative"}}},{"mark":{"type":"point","filled":true,"stroke":"black","strokeWidth":1.5,"size":110,"opacity":1},"encoding":{"shape":{"field":"type","type":"nominal","scale":{"domain":["abs","rel"],"range":["M0,-1L0.75,0L0,1L-0.75,0Z","circle"]},"legend":null},"fill":{"field":"type","type":"nominal","scale":{"domain":["abs","rel"],"range":["black","white"]},"legend":null}}}]},
{"width":125,"height":151,"transform":[{"filter":"datum.site=='GFOF'&&datum.species=='N. turgida'"}],"encoding":{"x":{"field":"value","type":"quantitative","scale":{"domain":[0,65],"nice":false},"axis":{"values":[0,25,50],"title":"N. turgida"}},"y":{"field":"depth","type":"quantitative","scale":{"domain":[0,1.5],"reverse":true,"nice":false},"axis":{"values":[0,1],"format":"~g","title":null}}},"layer":[{"mark":{"type":"line","color":"black","strokeWidth":1.6},"encoding":{"detail":{"field":"type"},"order":{"field":"depth","type":"quantitative"}}},{"mark":{"type":"point","filled":true,"stroke":"black","strokeWidth":1.5,"size":110,"opacity":1},"encoding":{"shape":{"field":"type","type":"nominal","scale":{"domain":["abs","rel"],"range":["M0,-1L0.75,0L0,1L-0.75,0Z","circle"]},"legend":null},"fill":{"field":"type","type":"nominal","scale":{"domain":["abs","rel"],"range":["black","white"]},"legend":null}}}]},
{"width":125,"height":151,
 "layer":[
  {"transform":[{"filter":"datum.site=='GFOF'&&datum.species=='Quinqueloculina spp.'"}],"mark":{"type":"line","color":"black","strokeWidth":1.6},"encoding":{"x":{"field":"value","type":"quantitative","scale":{"domain":[0,25],"nice":false},"axis":{"values":[0,10,20],"title":"Quinqueloculina spp."}},"y":{"field":"depth","type":"quantitative","scale":{"domain":[0,1.5],"reverse":true,"nice":false},"axis":{"values":[0,1],"format":"~g","title":null}},"detail":{"field":"type"},"order":{"field":"depth","type":"quantitative"}}},
  {"transform":[{"filter":"datum.site=='GFOF'&&datum.species=='Quinqueloculina spp.'"}],"mark":{"type":"point","filled":true,"stroke":"black","strokeWidth":1.5,"size":110,"opacity":1},"encoding":{"x":{"field":"value","type":"quantitative"},"y":{"field":"depth","type":"quantitative"},"shape":{"field":"type","type":"nominal","scale":{"domain":["abs","rel"],"range":["M0,-1L0.75,0L0,1L-0.75,0Z","circle"]},"legend":null},"fill":{"field":"type","type":"nominal","scale":{"domain":["abs","rel"],"range":["black","white"]},"legend":null}}},
  {"data":{"values":[{"label":"GFOF (N)","n":"= 300","s":"= 17","ald":"= 0.9 cm"}]},"mark":{"type":"text"},"encoding":{"text":{"field":"label"},"x":{"datum":9.6,"type":"quantitative"},"y":{"datum":0.275,"type":"quantitative"}}},
  {"data":{"values":[{}]},"mark":{"type":"text","text":"N","fontStyle":"italic"},"encoding":{"x":{"datum":9.6,"type":"quantitative"},"y":{"datum":0.43,"type":"quantitative"}}},
  {"data":{"values":[{"label":"GFOF (N)","n":"= 300","s":"= 17","ald":"= 0.9 cm"}]},"mark":{"type":"text","dx":12.5},"encoding":{"text":{"field":"n"},"x":{"datum":9.6,"type":"quantitative"},"y":{"datum":0.43,"type":"quantitative"}}},
  {"data":{"values":[{}]},"mark":{"type":"text","text":"S","fontStyle":"italic"},"encoding":{"x":{"datum":9.6,"type":"quantitative"},"y":{"datum":0.585,"type":"quantitative"}}},
  {"data":{"values":[{"label":"GFOF (N)","n":"= 300","s":"= 17","ald":"= 0.9 cm"}]},"mark":{"type":"text","dx":11.5},"encoding":{"text":{"field":"s"},"x":{"datum":9.6,"type":"quantitative"},"y":{"datum":0.585,"type":"quantitative"}}},
  {"data":{"values":[{}]},"mark":{"type":"text","text":"ALD"},"encoding":{"x":{"datum":9.6,"type":"quantitative"},"y":{"datum":0.74,"type":"quantitative"}}},
  {"data":{"values":[{}]},"mark":{"type":"text","text":"1.5","fontSize":11,"dx":30.5,"dy":10},"encoding":{"x":{"datum":9.6,"type":"quantitative"},"y":{"datum":0.74,"type":"quantitative"}}},
  {"data":{"values":[{"label":"GFOF (N)","n":"= 300","s":"= 17","ald":"= 0.9 cm"}]},"mark":{"type":"text","dx":49},"encoding":{"text":{"field":"ald"},"x":{"datum":9.6,"type":"quantitative"},"y":{"datum":0.74,"type":"quantitative"}}}
 ]}
 ]}
],
"config":{
 "font":"Liberation Sans",
 "view":{"stroke":null},
 "axis":{"grid":false,"domainColor":"#262626","domainWidth":1.6,"tickColor":"#262626","tickWidth":1.6,"tickSize":7,"labelFont":"Liberation Sans","labelFontSize":21,"labelColor":"#1a1a1a","labelFlush":false,"labelOverlap":false,"titleFont":"Liberation Sans","titleColor":"#1a1a1a"},
 "axisX":{"labelPadding":11,"titleFontSize":19.5,"titleFontWeight":"bold","titleFontStyle":"italic","titlePadding":5},
 "axisY":{"labelPadding":9,"titleFontSize":24,"titleFontWeight":"normal","titlePadding":5},
 "text":{"font":"Liberation Sans","fontSize":15.5,"align":"left","baseline":"middle","color":"black"}
}
}
